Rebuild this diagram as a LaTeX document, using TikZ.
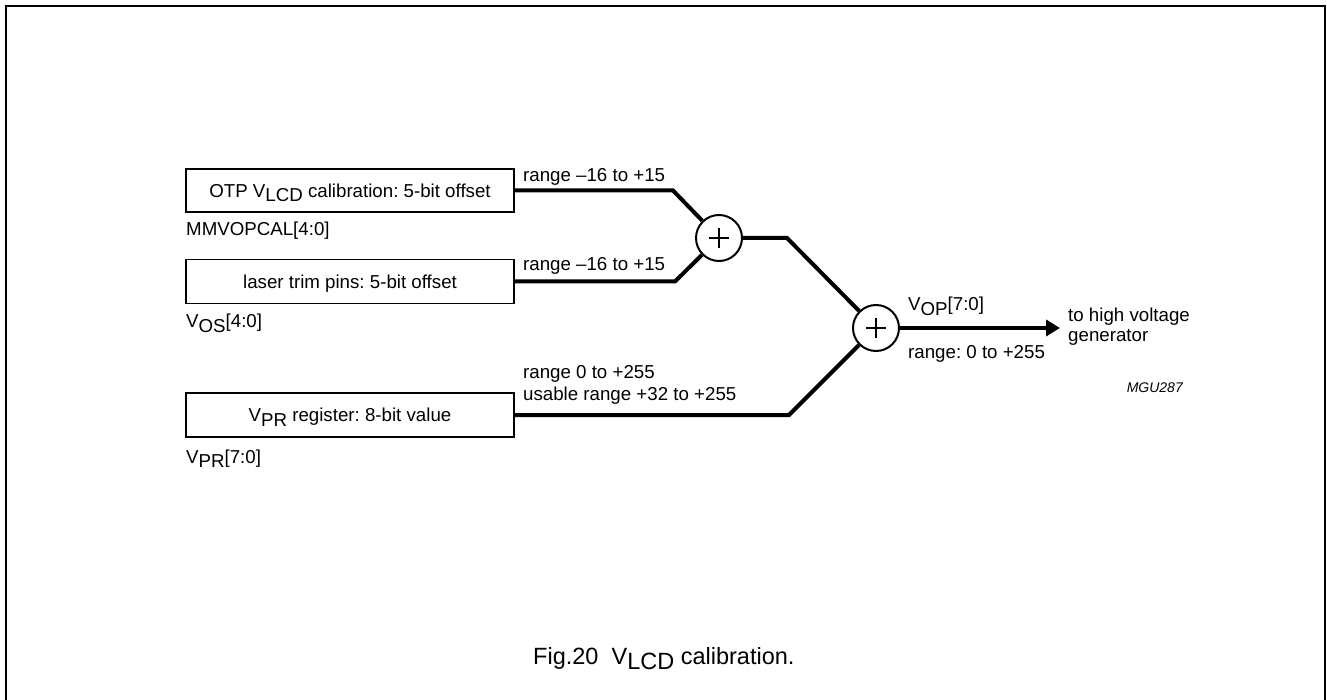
\documentclass[tikz,border=0pt]{standalone}
\usepackage{fontspec}
\setmainfont{Liberation Sans}
\usetikzlibrary{arrows.meta}
\newcommand{\lo}[1]{\raisebox{-0.25em}{#1}}
\frenchspacing
\begin{document}
\begin{tikzpicture}[x=1pt,y=-1pt,
  every node/.style={inner sep=0pt, font=\fontsize{18.7}{20}\selectfont},
  box/.style={draw, line width=1.8pt, minimum width=328pt, text height=13.5pt, text depth=0pt},
  lbl/.style={anchor=base west},
  wire/.style={line width=4pt, line join=miter},
  sum/.style={draw, circle, line width=2pt, minimum size=46pt},
  plus/.style={line width=2pt}]
\useasboundingbox (0,0) rectangle (1327,700);
\draw[line width=2pt] (6,702) -- (6,6) -- (1325,6) -- (1325,702);

% boxes
\node[box, minimum height=43pt] (b1) at (350,190.5) {OTP V\lo{LCD} calibration: 5-bit offset};
\node[box, minimum height=44pt] (b2) at (350,281.5) {laser trim pins: 5-bit offset};
\node[box, minimum height=44pt] (b3) at (350,415) {V\lo{PR} register: 8-bit value};

% box labels
\node[lbl] (l1) at (186,236) {MMVOPCAL[4:0]};
\node[lbl] (l2) at (186,328) {V\lo{OS}[4:0]};
\node[lbl] (l3) at (186,463) {V\lo{PR}[7:0]};

% adders
\node[sum] (c1) at (719,238) {};
\node[sum] (c2) at (876,328) {};
\draw[plus] ([xshift=-10pt]c1.center) -- ([xshift=10pt]c1.center);
\draw[plus] ([yshift=-10pt]c1.center) -- ([yshift=10pt]c1.center);
\draw[plus] ([xshift=-10pt]c2.center) -- ([xshift=10pt]c2.center);
\draw[plus] ([yshift=-10pt]c2.center) -- ([yshift=10pt]c2.center);

% wire labels
\node[lbl] (r1) at (523,182) {range \textendash16 to +15};
\node[lbl] (r2) at (523,270.5) {range \textendash16 to +15};
\node[lbl] (r3) at (523,378) {range 0 to +255};
\node[lbl] (r4) at (523,400.7) {usable range +32 to +255};
\node[lbl] (vop) at (908,311) {V\lo{OP}[7:0]};
\node[lbl] (r5) at (908,358.5) {range: 0 to +255};
\node[anchor=north west, align=left] (hv) at (1068,307.5) {to high voltage\\generator};
\node[anchor=base east, font=\fontsize{14}{16}\selectfont\itshape] (mgu) at (1183,392) {MGU287};
\node[anchor=base west, font=\fontsize{23.5}{28}\selectfont] (cap) at (533,664) {Fig.20\hspace{0.556em}V\lo{LCD} calibration.};

% wires
\coordinate (k1) at (673,190.5);
\coordinate (k2) at (675,281.5);
\coordinate (k3) at (787,238);
\coordinate (k4) at (789,415);
\coordinate (out) at (1060,328);
\draw[wire] (b1.east) -- (k1) -- (c1);
\draw[wire] (b2.east) -- (k2) -- (c1);
\draw[wire] (c1) -- (k3) -- (c2);
\draw[wire] (b3.east) -- (k4) -- (c2);
\draw[wire, -{Triangle[length=14pt,width=16pt]}] (c2) -- (out);
\end{tikzpicture}
\end{document}
